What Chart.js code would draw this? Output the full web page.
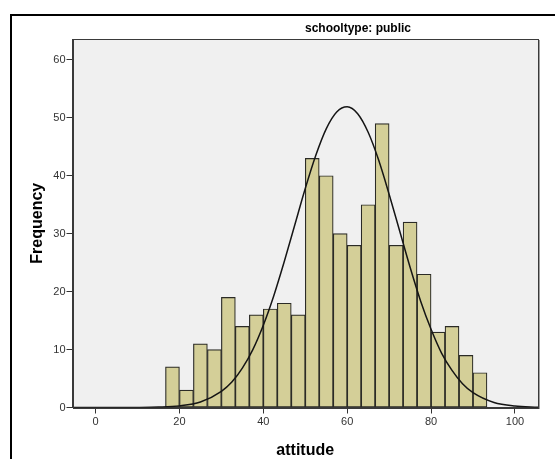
<!DOCTYPE html>
<html>
<head>
<meta charset="utf-8">
<title>attitude histogram - schooltype: public</title>
<script src="https://cdn.jsdelivr.net/npm/chart.js@4/dist/chart.umd.min.js"></script>
<style>
  html, body { margin: 0; padding: 0; background: #fff; }
  #wrap { position: relative; width: 555px; height: 459px; overflow: hidden; }
  #frame { position: absolute; left: 10px; top: 14px; width: 600px; height: 500px; border: 2px solid #000; box-sizing: border-box; }
  #chart { position: absolute; left: 0; top: 0; }
</style>
</head>
<body>
<div id="wrap">
  <div id="frame"></div>
  <canvas id="chart" width="555" height="459"></canvas>
</div>
<script>
// histogram bins (lower edge of each bin) and counts
const binStarts = [16.67, 20, 23.33, 26.67, 30, 33.33, 36.67, 40, 43.33, 46.67, 50, 53.33,
                   56.67, 60, 63.33, 66.67, 70, 73.33, 76.67, 80, 83.33, 86.67, 90];
const binWidth = 3.333;
const counts = [7, 3, 11, 10, 19, 14, 16, 17, 18, 16, 43, 40,
                30, 28, 35, 49, 28, 32, 23, 13, 14, 9, 6];

// normal curve, points
const curveX = [-5.5, 0, 5, 10, 15, 20, 25, 30, 32.5, 35, 37.5, 40, 42.5, 45, 47.5, 50, 52.5, 55, 57.5, 60,
                62.5, 65, 67.5, 70, 72.5, 75, 77.5, 80, 82.5, 85, 87.5, 90, 95, 100, 105.5];
const curveY = [0, 0, 0, 0.01, 0.07, 0.28, 0.95, 2.8, 4.4, 6.8, 10.0, 14.2, 19.3, 25.2, 31.5, 37.8, 43.5, 48.1, 51.0, 51.9,
                50.7, 47.5, 42.7, 36.8, 30.5, 24.2, 18.4, 13.5, 9.4, 6.4, 4.1, 2.55, 0.86, 0.25, 0.05];

const xTicks = [0, 20, 40, 60, 80, 100];
const yTicks = [0, 10, 20, 30, 40, 50, 60];
const panelTitle = 'schooltype: public';

const panelPlugin = {
    id: 'panel',
    beforeDraw(chart) {
        const a = chart.chartArea;
        const ctx = chart.ctx;
        ctx.save();
        ctx.fillStyle = '#f0f0f0';
        ctx.fillRect(a.left, a.top, a.right - a.left, a.bottom - a.top);
        ctx.restore();
    },
    afterDraw(chart) {
        const a = chart.chartArea;
        const ctx = chart.ctx;
        ctx.save();
        // light shadow on the right side, then the frame
        ctx.strokeStyle = '#a0a0a0';
        ctx.lineWidth = 1;
        ctx.beginPath();
        ctx.moveTo(Math.round(a.right) + 1.5, Math.round(a.top) + 1);
        ctx.lineTo(Math.round(a.right) + 1.5, Math.round(a.bottom) + 1);
        ctx.stroke();
        ctx.strokeStyle = '#3a3a3a';
        ctx.strokeRect(Math.round(a.left) + 0.5, Math.round(a.top) + 0.5,
                       Math.round(a.right - a.left) - 1, Math.round(a.bottom - a.top));
        // panel title
        ctx.fillStyle = '#000';
        ctx.font = 'bold 12px "Liberation Sans", Arial, sans-serif';
        ctx.textAlign = 'center';
        ctx.textBaseline = 'middle';
        ctx.fillText(panelTitle, 358, 29);
        ctx.restore();
    }
};

const tickFont = { family: '"Liberation Sans", Arial, sans-serif', size: 11 };
const titleFont = { family: '"Liberation Sans", Arial, sans-serif', size: 16, weight: 'bold', lineHeight: 1 };

new Chart(document.getElementById('chart'), {
    type: 'bar',
    data: {
        datasets: [
            {
                type: 'line',
                data: curveX.map((x, i) => ({ x: x, y: curveY[i] })),
                borderColor: '#151515',
                borderWidth: 1.5,
                pointRadius: 0,
                cubicInterpolationMode: 'monotone',
                fill: false,
                order: 0
            },
            {
                type: 'bar',
                data: binStarts.map((s, i) => ({ x: s + binWidth / 2, y: counts[i] })),
                backgroundColor: '#d4cf98',
                borderColor: '#2b2b26',
                borderWidth: 1.2,
                borderSkipped: false,
                categoryPercentage: 1,
                barPercentage: 1,
                order: 1
            }
        ]
    },
    options: {
        responsive: false,
        animation: false,
        layout: { padding: { left: 0, right: 17, top: 39, bottom: 0 } },
        plugins: {
            legend: { display: false },
            tooltip: { enabled: false }
        },
        scales: {
            x: {
                type: 'linear',
                min: -5.5,
                max: 105.5,
                offset: false,
                afterBuildTicks: s => { s.ticks = xTicks.map(v => ({ value: v })); },
                afterFit: s => { s.height = 51.5; },
                grid: { offset: false, drawOnChartArea: false, drawTicks: true, tickLength: 6, color: '#333' },
                border: { display: true, color: '#3a3a3a' },
                ticks: { font: tickFont, color: '#333', padding: 2, maxRotation: 0 },
                title: { display: true, text: 'attitude', font: titleFont, color: '#000', padding: { top: 0, bottom: 0 } }
            },
            y: {
                min: 0,
                max: 63.6,
                afterBuildTicks: s => { s.ticks = yTicks.map(v => ({ value: v })); },
                afterFit: s => { s.width = 72.5; },
                grid: { drawOnChartArea: false, drawTicks: true, tickLength: 6, color: '#333' },
                border: { display: true, color: '#3a3a3a' },
                ticks: { font: tickFont, color: '#333', padding: 1 },
                title: { display: true, text: 'Frequency', font: titleFont, color: '#000', padding: { top: 30, bottom: 0 } }
            }
        }
    },
    plugins: [panelPlugin]
});
</script>
</body>
</html>
